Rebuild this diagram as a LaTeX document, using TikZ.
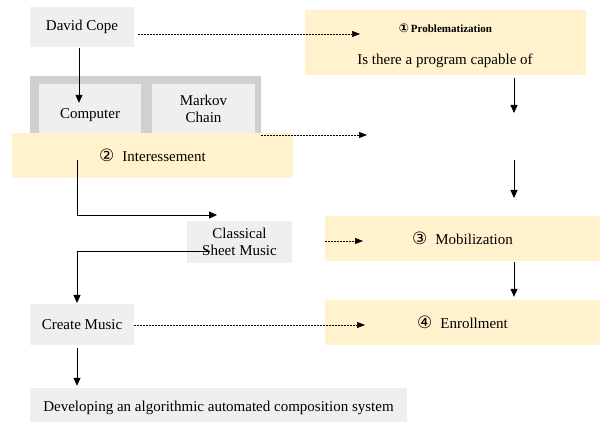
\documentclass[tikz,border=0pt]{standalone}
\usepackage{fontspec}
\setmainfont{Liberation Serif}
\newfontfamily\circfont{DejaVu Sans}
\usetikzlibrary{arrows.meta, positioning}
\definecolor{boxgray}{HTML}{EFEFEF}
\definecolor{framegray}{HTML}{D0D0D0}
\definecolor{paleyellow}{HTML}{FFF2CC}
\newcommand{\circnum}[2][17]{{\circfont\fontsize{#1}{#1}\selectfont #2}}

\begin{document}
\begin{tikzpicture}[x=1pt, y=-1pt, every node/.style={font=\fontsize{15}{17}\selectfont, inner sep=0pt},
    greybox/.style={fill=boxgray},
    yellowbox/.style={fill=paleyellow},
    arr/.style={-{Triangle[length=8pt,width=7pt]}, line width=0.8pt},
    dasharr/.style={-{Triangle[length=8pt,width=6pt]}, line width=0.6pt, dash pattern=on 2pt off 1pt}]

    \useasboundingbox (0,0) rectangle (600,422);

    % left column
    \node[greybox, minimum width=104pt, minimum height=40pt] (dc) at (82,27) {David Cope};
    \node[fill=framegray, minimum width=231pt, minimum height=64pt] (frame) at (145.5,108) {};
    \node[greybox, minimum width=102pt, minimum height=62pt] (comp) at (90,115) {Computer};
    \node[greybox, minimum width=103pt, minimum height=50pt, align=center] (markov) at (203.5,109) {Markov\\Chain};
    \node[yellowbox, minimum width=281pt, minimum height=45pt] (inter) at (152.5,155.5) {\circnum{②}\hspace{8pt}Interessement};
    \node[greybox, minimum width=105pt, minimum height=42pt, align=center] (sheet) at (239.5,242) {Classical\\Sheet Music};
    \node[greybox, minimum width=104pt, minimum height=41pt] (cm) at (82,324.5) {Create Music};
    \node[greybox, minimum width=377pt, minimum height=40pt] (dev) at (218.5,408) {Developing an algorithmic automated composition system};

    % right column
    \node[yellowbox, minimum width=281pt, minimum height=65pt] (prob) at (445.5,42.5) {};
    \node[font=\fontsize{11}{13}\selectfont\bfseries] (probtitle) at (445.5,28) {\circnum[12]{①}\,Problematization};
    \node (probtext) at (445,61) {Is there a program capable of};
    \node[yellowbox, minimum width=275pt, minimum height=45pt] (mob) at (462.5,238.5) {\circnum{③}\hspace{8pt}Mobilization};
    \node[yellowbox, minimum width=275pt, minimum height=45pt] (enr) at (462.5,322.5) {\circnum{④}\hspace{8pt}Enrollment};

    % free ends
    \coordinate (q1) at (360,34);
    \coordinate (q2) at (367,135);
    \coordinate (q3) at (365,325);
    \coordinate (q4) at (363,241);
    \coordinate (r1) at (514,113);
    \coordinate (r2) at (514,160);
    \coordinate (r3) at (514,198);
    \coordinate (a1) at (77,160);
    \coordinate (a2) at (217,215);
    \coordinate (b1) at (210,251);
    \coordinate (b2) at (77,303);

    \draw[arr] ([xshift=-3pt,yshift=-1pt]dc.south) -- ([xshift=-11pt,yshift=-19pt]comp.north);
    \draw[arr] (a1) |- (a2);
    \draw[arr] (b1) -| (b2);
    \draw[arr, shorten <=3pt, shorten >=2pt] (cm.south -| b2) -- (dev.north -| b2);

    \draw[dasharr, shorten <=4pt] (dc.east |- q1) -- (q1);
    \draw[dasharr] (frame.east |- q2) -- (q2);
    \draw[dasharr] (cm.east |- q3) -- (q3);
    \draw[dasharr] (mob.west |- q4) -- (q4);

    \draw[arr, shorten <=3pt] (prob.south -| r1) -- (r1);
    \draw[arr] (r2) -- (r3);
    \draw[arr, shorten <=1pt, shorten >=3pt] (mob.south -| r1) -- (enr.north -| r1);
\end{tikzpicture}
\end{document}
